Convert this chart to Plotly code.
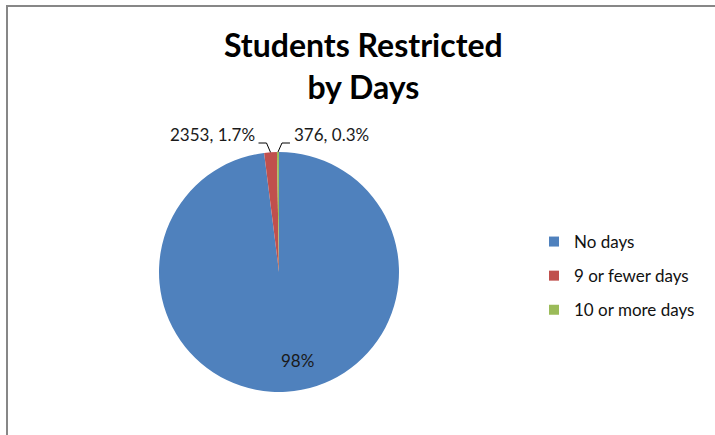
import math
import plotly.graph_objects as go

categories = ["No days", "9 or fewer days", "10 or more days"]
values = [135000, 2353, 376]
colors = ["#4F81BD", "#C0504D", "#9BBB59"]
label_text = ["98%", "2353, 1.7%", "376, 0.3%"]

W, H = 715, 435
FONT = "Lato, Open Sans, sans-serif"

# pie placement (pixels)
CX, CY, R = 279, 272, 120


def px(x):
    return x / W


def py(y):
    return 1 - y / H


fig = go.Figure()
fig.add_trace(go.Pie(
    labels=categories,
    values=values,
    sort=False,
    direction="clockwise",
    rotation=0,
    marker=dict(colors=colors, line=dict(width=0)),
    textinfo="none",
    domain=dict(x=[px(CX - R), px(CX + R)], y=[py(CY + R), py(CY - R)]),
    hoverinfo="label+value+percent",
    showlegend=False,
))

# legend entries (one per category) so item spacing can match the reference
for name, col in zip(categories, colors):
    fig.add_trace(go.Scatter(
        x=[None], y=[None], mode="markers", name=name, legendgroup=name,
        marker=dict(symbol="square", size=10, color=col),
        hoverinfo="skip",
    ))

# data labels, positioned from the slices' angles
total = sum(values)
cum = 0.0
mids = []
for v in values:
    mids.append((cum + v / 2) / total * 2 * math.pi)
    cum += v

annotations = [dict(
    text="<b>Students Restricted<br>by Days</b>",
    x=px(364), y=py(66), xref="paper", yref="paper",
    xanchor="center", yanchor="middle", showarrow=False,
    font=dict(family=FONT, size=32, color="#000000"),
)]
shapes = [dict(
    type="rect", xref="paper", yref="paper",
    x0=px(7), x1=1.05, y0=-0.05, y1=py(6),
    line=dict(color="#878787", width=2),
    fillcolor="rgba(0,0,0,0)", layer="below",
)]

# inside label for the big slice
a = mids[0]
r_in = 0.74 * R
annotations.append(dict(
    text=label_text[0],
    x=px(CX + r_in * math.sin(a)), y=py(CY - r_in * math.cos(a)),
    xref="paper", yref="paper", xshift=13, showarrow=False,
    xanchor="center", yanchor="middle",
    font=dict(family=FONT, size=17, color="#1a1a1a"),
))

# outside labels with elbow leader lines
ELBOW_Y = 143
for i, side in ((1, -1), (2, 1)):
    a = mids[i]
    ex, ey = CX + R * math.sin(a), CY - R * math.cos(a)
    kx = ex + side * 4
    hx = kx + side * 8
    shapes.append(dict(
        type="path", xref="paper", yref="paper",
        path=f"M {px(ex)},{py(ey)} L {px(kx)},{py(ELBOW_Y)} L {px(hx)},{py(ELBOW_Y)}",
        line=dict(color="#000000", width=1),
    ))
    annotations.append(dict(
        text=label_text[i],
        x=px(hx + side * 2), y=py(ELBOW_Y - 9),
        xref="paper", yref="paper", showarrow=False,
        xanchor="left" if side > 0 else "right", yanchor="middle",
        font=dict(family=FONT, size=17, color="#1a1a1a"),
    ))

fig.update_layout(
    width=W, height=H,
    margin=dict(l=0, r=0, t=0, b=0),
    paper_bgcolor="white",
    plot_bgcolor="white",
    xaxis=dict(visible=False),
    yaxis=dict(visible=False),
    legend=dict(
        x=px(534), xanchor="left",
        y=py(224), yanchor="top",
        font=dict(family=FONT, size=17, color="#111111"),
        itemwidth=30,
        tracegroupgap=9,
    ),
    annotations=annotations,
    shapes=shapes,
)

fig.write_html("out.html", config={"displayModeBar": False},
               post_script="document.body.style.margin='0';")
